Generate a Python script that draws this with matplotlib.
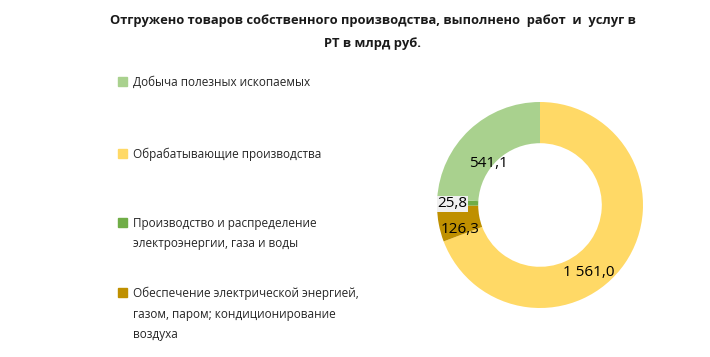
import numpy as np
import matplotlib.pyplot as plt
from matplotlib.patches import Rectangle

plt.rcParams['font.family'] = ['Open Sans', 'DejaVu Sans']

# данные (млрд руб.)
categories = ['Добыча полезных ископаемых',
              'Обрабатывающие производства',
              'Производство и распределение\nэлектроэнергии, газа и воды',
              'Обеспечение электрической энергией,\nгазом, паром; кондиционирование\nвоздуха']
values = [541.1, 1561.0, 25.8, 126.3]
colors = ['#A9D18E', '#FFD966', '#70AD47', '#BF9000']

# порядок секторов по часовой стрелке от верха
order = [1, 3, 2, 0]

def fmt(v):
    s = '{:,.1f}'.format(v)
    return s.replace(',', ' ').replace('.', ',')

fig = plt.figure(figsize=(7.1, 3.57), dpi=100)

fig.text(0.525, 1 - 32 / 357., 'Отгружено товаров собственного производства, выполнено  работ  и  услуг в\nРТ в млрд руб.',
         ha='center', va='center', fontsize=9.3, fontweight='bold', linespacing=1.95,
         color='#1a1a1a')

# легенда
leg_y = [81, 153, 222, 292]
for i, lab in enumerate(categories):
    y = 1 - leg_y[i] / 357.
    fig.patches.append(Rectangle((118 / 710., y - 4.5 / 357.), 9 / 710., 9 / 357.,
                                 transform=fig.transFigure, color=colors[i], figure=fig))
    fig.text(133 / 710., y + 5 / 357., lab, ha='left', va='top', fontsize=8.5,
             linespacing=1.75, color='#262626')

# кольцевая диаграмма
ax = fig.add_axes([(540 - 103) / 710., (357 - 205 - 103) / 357., 206 / 710., 206 / 357.])
wedges, _ = ax.pie([values[k] for k in order], colors=[colors[k] for k in order],
                   startangle=90, counterclock=False, radius=1.0,
                   wedgeprops=dict(width=0.4, linewidth=0))
ax.set_xlim(-1, 1)
ax.set_ylim(-1, 1)
ax.set_aspect('equal')
ax.axis('off')

# подписи значений
lab_pos = {0: (-0.50, 0.40), 1: (0.47, -0.66), 2: (-0.85, 0.01), 3: (-0.78, -0.24)}
for k in order:
    x, y = lab_pos[k]
    bb = dict(boxstyle='square,pad=0.05', fc='#f0f0f0', ec='none') if k == 2 else None
    ax.text(x, y, fmt(values[k]), ha='center', va='center', fontsize=11,
            color='black', bbox=bb)

fig.savefig('out.png', dpi=100)
